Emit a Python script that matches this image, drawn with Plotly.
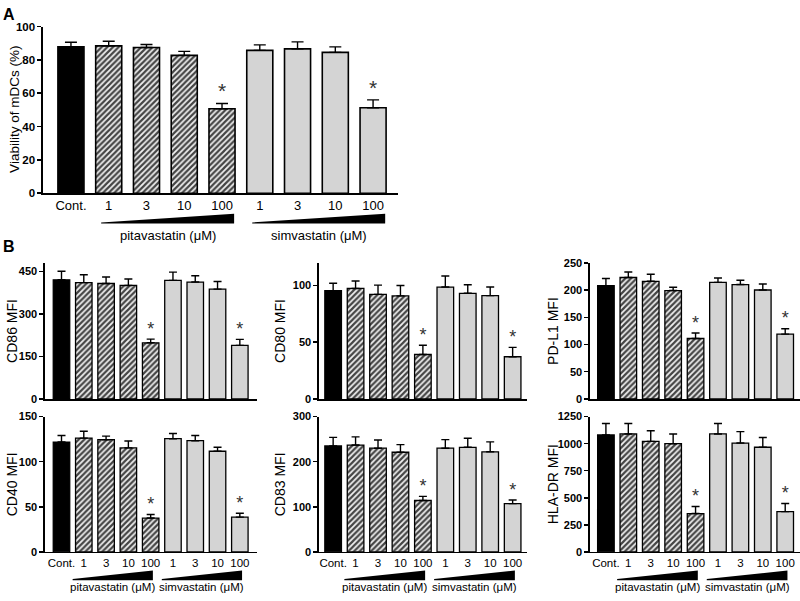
import plotly.graph_objects as go

# ---------------- data ----------------
categories = ["Cont.", "1", "3", "10", "100", "1", "3", "10", "100"]
significant = [False, False, False, False, True, False, False, False, True]
drug_groups = {"pitavastatin (\u03bcM)": [1, 2, 3, 4], "simvastatin (\u03bcM)": [5, 6, 7, 8]}

viability = [87.8, 88.4, 87.4, 82.7, 50.7, 85.7, 86.6, 84.5, 51.3]
viability_err = [2.8, 2.8, 1.8, 2.4, 3.1, 3.3, 4.2, 3.3, 4.7]

cd86 = [420, 410, 407, 400, 198, 418, 412, 387, 189]
cd86_err = [30, 28, 23, 23, 13, 29, 22, 27, 21]

cd80 = [95.4, 97.4, 92.2, 90.8, 39.2, 98.6, 93.1, 91.1, 37.2]
cd80_err = [6.6, 6.6, 8.1, 9.2, 8.1, 9.8, 7.5, 7.5, 8.3]

pdl1 = [208, 223, 216, 199, 111, 214, 210, 200, 119]
pdl1_err = [13, 10, 13, 6, 10, 8, 8, 11, 10]

cd40 = [121.8, 126.2, 124.4, 115.3, 37.5, 125.5, 123.3, 111.6, 38.5]
cd40_err = [7.2, 7.6, 4.0, 7.6, 4.0, 5.8, 5.7, 4.4, 4.4]

cd83 = [235, 237, 230, 221, 114, 230, 232, 222, 107]
cd83_err = [19, 18, 18, 17, 9, 19, 20, 22, 8]

hladr = [1081, 1090, 1021, 1000, 354, 1090, 1006, 967, 372]
hladr_err = [105, 96, 99, 90, 66, 96, 105, 90, 75]

# ---------------- styling ----------------
W, H = 800, 601
FONT = "Liberation Sans, Arial, Helvetica, sans-serif"
bar_colors = ["black"] + ["#f0f0f0"] * 4 + ["#d4d4d4"] * 4
bar_patterns = [""] + ["/"] * 4 + [""] * 4
xs = list(range(len(categories)))


def px_x(p):
    return p / W


def px_y(p):
    return 1 - p / H


# (values, errors, ytitle, x pixel range, y pixel range, yrange, dtick, xrange, x labels, title x px)
panels = [
    (viability, viability_err, "Viability of mDCs (%)", (43, 398), (21, 191), (0, 100), 20, (-0.74, 8.66), "A", 15),
    (cd86, cd86_err, "CD86 MFI", (45, 257), (262, 401), (0, 480), 150, (-0.74, 8.77), None, 12),
    (cd80, cd80_err, "CD80 MFI", (319, 527), (262, 401), (0, 120), 50, (-0.63, 8.64), None, 280),
    (pdl1, pdl1_err, "PD-L1 MFI", (590, 800), (262, 401), (0, 250), 50, (-0.71, 8.66), None, 553),
    (cd40, cd40_err, "CD40 MFI", (45, 257), (419, 557), (0, 150), 50, (-0.74, 8.77), "B2", 12),
    (cd83, cd83_err, "CD83 MFI", (319, 527), (419, 557), (0, 300), 100, (-0.63, 8.64), "B2", 280),
    (hladr, hladr_err, "HLA-DR MFI", (590, 800), (419, 557), (0, 1250), 250, (-0.71, 8.66), "B2", 553),
]

fig = go.Figure()
layout = dict(
    width=W, height=H, margin=dict(l=0, r=0, t=0, b=0),
    paper_bgcolor="white", plot_bgcolor="white", showlegend=False,
    font=dict(family=FONT, color="black"),
)
annotations = []
shapes = []

for k, (vals, errs, ytitle, xpx, ypx, yr, dtick, xr, xlab, title_x) in enumerate(panels):
    n = "" if k == 0 else str(k + 1)
    xa, ya = "x" + n, "y" + n
    is_a = k == 0
    fig.add_trace(go.Bar(
        x=xs, y=vals, xaxis=xa, yaxis=ya, width=0.69 if is_a else 0.74,
        marker=dict(
            color=bar_colors,
            line=dict(color="black", width=1.6 if is_a else 1.3),
            pattern=dict(shape=bar_patterns, fgcolor="#111111", fgopacity=1,
                         size=4, solidity=0.55),
        ),
        error_y=dict(type="data", symmetric=False, array=errs, arrayminus=[0] * len(errs),
                     color="black", thickness=1.4, width=6 if is_a else 4),
        hoverinfo="skip",
    ))
    sx = [x for x, s in zip(xs, significant) if s]
    sy = [v + e for v, e, s in zip(vals, errs, significant) if s]
    fig.add_trace(go.Scatter(
        x=sx, y=sy, xaxis=xa, yaxis=ya, mode="text", text=["*"] * len(sx),
        textposition="top center", textfont=dict(size=21 if is_a else 18, color="#333333", family=FONT),
        hoverinfo="skip",
    ))
    layout["xaxis" + n] = dict(
        domain=[px_x(xpx[0]), px_x(xpx[1])], anchor=ya, range=list(xr),
        tickmode="array", tickvals=xs, ticktext=categories, showticklabels=xlab is not None,
        ticks="", showline=True, linecolor="black", linewidth=1.6, showgrid=False, zeroline=False,
        tickfont=dict(size=13 if is_a else 11.5, family=FONT),
    )
    layout["yaxis" + n] = dict(
        domain=[px_y(ypx[1]), px_y(ypx[0])], anchor=xa, range=list(yr), dtick=dtick, tick0=0,
        ticks="outside", ticklen=4, tickwidth=1.5, tickcolor="black",
        showline=True, linecolor="black", linewidth=1.6, showgrid=False, zeroline=False,
        tickfont=dict(size=11.5 if is_a else 11, family=FONT, weight="bold"),
    )
    annotations.append(dict(
        text=ytitle, xref="paper", yref="paper", x=px_x(title_x), y=px_y((ypx[0] + ypx[1]) / 2),
        textangle=-90, showarrow=False, xanchor="center", yanchor="middle",
        font=dict(size=13.5 if is_a else 14, family=FONT),
    ))
    if xlab is not None:
        if is_a:
            w_top, w_bot, lab_y, lo, hi, lab_size = 212, 222, 234, -0.2, 0.32, 13
        else:
            w_top, w_bot, lab_y, lo, hi, lab_size = 576, 586, 593, -0.5, 0.1, 11.5
        for name, idx in drug_groups.items():
            x0 = idx[0] + lo
            x1 = idx[-1] + hi
            shapes.append(dict(
                type="path", xref=xa, yref="paper",
                path=f"M {x0},{px_y(w_bot)} L {x1},{px_y(w_bot)} L {x1},{px_y(w_top)} L {x0},{px_y(w_bot - 1.2)} Z",
                fillcolor="black", line=dict(width=0),
            ))
            annotations.append(dict(
                text=name, xref=xa, yref="paper", x=(x0 + x1) / 2, y=px_y(lab_y),
                showarrow=False, xanchor="center", yanchor="middle",
                font=dict(size=lab_size, family=FONT),
            ))

for letter, ly in (("A", 9), ("B", 245)):
    annotations.append(dict(
        text=f"<b>{letter}</b>", xref="paper", yref="paper", x=px_x(1), y=px_y(ly),
        showarrow=False, xanchor="left", yanchor="middle", font=dict(size=16, family=FONT),
    ))

layout["annotations"] = annotations
layout["shapes"] = shapes
fig.update_layout(**layout)
fig.write_html(
    "out.html",
    config={"displayModeBar": False, "staticPlot": True},
    post_script="document.body.style.margin='0';document.body.style.overflow='hidden';",
)
